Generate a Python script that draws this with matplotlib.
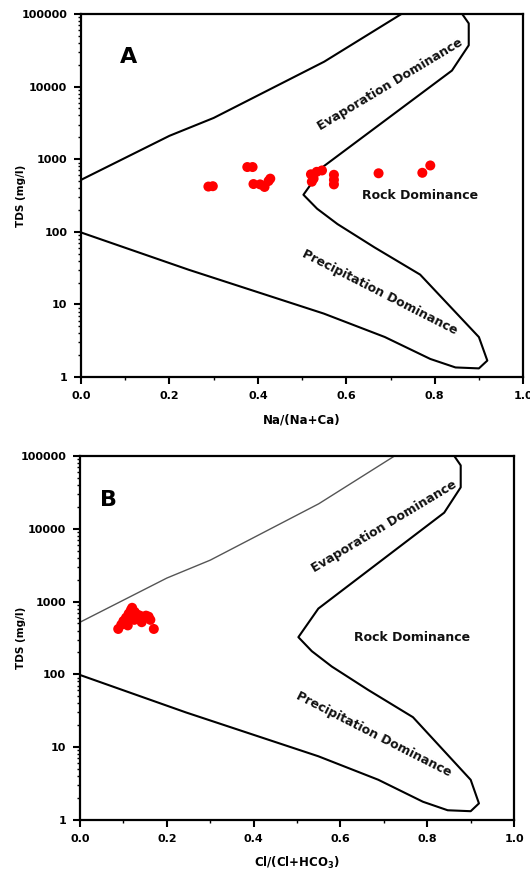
import matplotlib

matplotlib.use("Agg")

import matplotlib.pyplot as plt
from matplotlib.ticker import FixedLocator, LogLocator, NullFormatter, MultipleLocator

# Gibbs boundaries (shared by both panels)
upper_x = [0.0, 0.2, 0.3, 0.55, 0.725]
upper_tds = [520, 2100, 3700, 22000, 100000]

outline_x = [0.862, 0.877, 0.877, 0.839, 0.549, 0.503, 0.534, 0.58, 0.664, 0.767,
             0.90, 0.919, 0.90, 0.847, 0.79, 0.687, 0.549, 0.244, 0.0]
outline_tds = [100000, 74000, 37000, 16600, 800, 324, 208, 128, 61, 25.8,
               3.56, 1.69, 1.32, 1.36, 1.78, 3.57, 7.5, 30, 98]

# samples, panel A: Na/(Na+Ca)
na_ratio = [0.288, 0.298, 0.376, 0.388, 0.390, 0.405, 0.415, 0.424, 0.428, 0.520,
            0.522, 0.526, 0.533, 0.545, 0.572, 0.572, 0.572, 0.673, 0.772, 0.790]
tds_a = [420, 425, 780, 780, 455, 450, 415, 500, 540, 620,
         490, 540, 670, 700, 610, 520, 450, 640, 650, 820]

# samples, panel B: Cl/(Cl+HCO3)
cl_ratio = [0.088, 0.095, 0.100, 0.106, 0.112, 0.117, 0.120, 0.126, 0.132, 0.138,
            0.142, 0.147, 0.152, 0.158, 0.162, 0.170, 0.125, 0.135, 0.110]
tds_b = [420, 480, 540, 600, 680, 760, 820, 720, 660, 640,
         520, 600, 640, 620, 560, 420, 560, 590, 470]

x_ticks = [0.0, 0.2, 0.4, 0.6, 0.8, 1.0]
y_ticks = [1, 10, 100, 1000, 10000, 100000]
y_tick_labels = ["1", "10", "100", "1000", "10000", "100000"]

plt.rcParams["font.family"] = ["DejaVu Sans"]
plt.rcParams["font.weight"] = "bold"
plt.rcParams["mathtext.fontset"] = "dejavusans"
plt.rcParams["mathtext.default"] = "bf"


def draw_panel(ax, xs, ys, letter, xlabel, letter_x, upper_color, upper_lw):
    ax.plot(upper_x, upper_tds, color=upper_color, lw=upper_lw)
    ax.plot(outline_x, outline_tds, color="black", lw=1.5)
    ax.scatter(xs, ys, s=52, color="#ff0000", edgecolors="none", zorder=3)

    ax.set_yscale("log")
    ax.set_xlim(0, 1)
    ax.set_ylim(1, 100000)
    ax.xaxis.set_major_locator(FixedLocator(x_ticks))
    ax.xaxis.set_minor_locator(MultipleLocator(0.1))
    ax.set_xticklabels([f"{t:.1f}" for t in x_ticks])
    ax.yaxis.set_major_locator(FixedLocator(y_ticks))
    ax.yaxis.set_minor_locator(LogLocator(base=10, subs=range(2, 10)))
    ax.yaxis.set_minor_formatter(NullFormatter())
    ax.set_yticklabels(y_tick_labels)
    ax.tick_params(which="major", direction="out", length=5, width=1.5,
                   labelsize=8, pad=5)
    ax.tick_params(which="minor", direction="out", length=2.5, width=1)
    for side in ax.spines.values():
        side.set_linewidth(1.6)

    ax.set_xlabel(xlabel, fontsize=8.5, fontweight="bold", va="center")
    ax.xaxis.set_label_coords(0.5, -0.117)
    ax.set_ylabel("TDS (mg/l)", fontsize=7.5, fontweight="bold", va="center")
    ax.yaxis.set_label_coords(-0.135, 0.5)

    ax.text(letter_x, 0.88, letter, transform=ax.transAxes, fontsize=16,
            fontweight="bold", ha="center", va="center")
    ax.text(0.70, 10700, "Evaporation Dominance", rotation=31, fontsize=9,
            fontweight="bold", ha="center", va="center", rotation_mode="anchor",
            color="#111111")
    ax.text(0.766, 316, "Rock Dominance", fontsize=9, fontweight="bold",
            ha="center", va="center", color="#111111")
    ax.text(0.676, 14.9, "Precipitation Dominance", rotation=-27, fontsize=9,
            fontweight="bold", ha="center", va="center", rotation_mode="anchor",
            color="#111111")


fig = plt.figure(figsize=(5.30, 8.69), dpi=100)
ax_a = fig.add_axes([0.153, 0.566, 0.834, 0.418])
ax_b = fig.add_axes([0.151, 0.0564, 0.819, 0.419])

draw_panel(ax_a, na_ratio, tds_a, "A", "Na/(Na+Ca)", 0.108, "black", 1.5)
draw_panel(ax_b, cl_ratio, tds_b, "B", r"Cl/(Cl+HCO$_3$)", 0.065, "#555555", 1.0)

fig.savefig("out.png", dpi=100)
